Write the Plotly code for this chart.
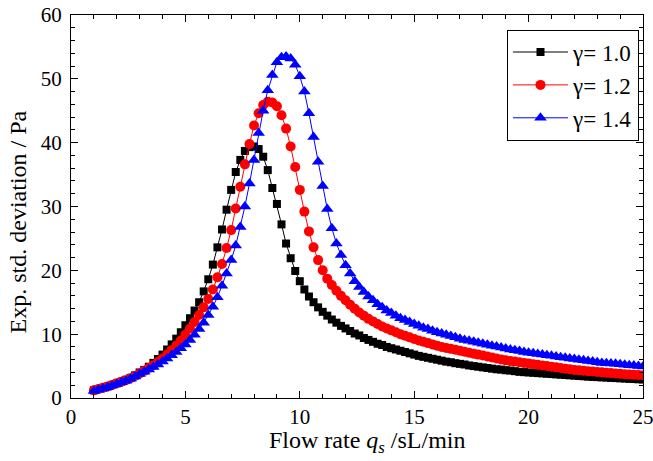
import numpy as np
import plotly.graph_objects as go

# Flow rate grid (sL/min)
flow_rate = np.round(np.arange(1.0, 25.0001, 0.2), 1)

gamma_10 = [
    1.2, 1.4, 1.6, 1.8, 2.05,
    2.3, 2.55, 2.85, 3.15, 3.55,
    4.0, 4.4, 4.9, 5.5, 6.1,
    6.8, 7.6, 8.4, 9.3, 10.3,
    11.4, 12.5, 13.7, 15.0, 16.7,
    18.6, 20.9, 23.6, 26.4, 29.5,
    32.6, 35.4, 37.3, 38.7, 39.3,
    39.4, 39.0, 37.8, 35.7, 32.9,
    30.4, 27.2, 24.2, 21.9, 19.9,
    18.3, 17.0, 15.9, 15.0, 14.2,
    13.5, 12.9, 12.3, 11.8, 11.3,
    10.9, 10.5, 10.1, 9.8, 9.4,
    9.1, 8.8, 8.5, 8.3, 8.0,
    7.8, 7.6, 7.4, 7.2, 7.0,
    6.8, 6.6, 6.45, 6.3, 6.15,
    6.0, 5.85, 5.7, 5.6, 5.45,
    5.35, 5.25, 5.1, 5.0, 4.9,
    4.8, 4.7, 4.6, 4.5, 4.45,
    4.35, 4.3, 4.2, 4.1, 4.05,
    4.0, 3.95, 3.9, 3.85, 3.8,
    3.75, 3.7, 3.65, 3.6, 3.55,
    3.5, 3.45, 3.4, 3.35, 3.3,
    3.27, 3.23, 3.2, 3.15, 3.12,
    3.08, 3.05, 3.0, 2.97, 2.93,
    2.9,
]

gamma_12 = [
    1.2, 1.4, 1.6, 1.8, 2.05,
    2.3, 2.55, 2.8, 3.1, 3.45,
    3.85, 4.25, 4.7, 5.15, 5.65,
    6.2, 6.8, 7.5, 8.2, 9.0,
    9.9, 10.9, 11.9, 13.0, 14.2,
    15.5, 17.0, 18.9, 21.0, 23.5,
    26.3, 29.7, 33.1, 36.6, 39.8,
    42.7, 44.6, 45.9, 46.4, 46.3,
    45.7, 44.3, 42.2, 39.4, 36.2,
    32.6, 29.2, 26.1, 23.6, 21.6,
    20.0, 18.7, 17.7, 16.8, 16.0,
    15.3, 14.6, 14.0, 13.4, 12.9,
    12.4, 12.0, 11.6, 11.2, 10.9,
    10.6, 10.3, 10.0, 9.75, 9.5,
    9.25, 9.0, 8.8, 8.6, 8.4,
    8.2, 8.0, 7.85, 7.7, 7.55,
    7.4, 7.25, 7.1, 6.95, 6.8,
    6.65, 6.5, 6.35, 6.2, 6.05,
    5.9, 5.8, 5.7, 5.6, 5.5,
    5.4, 5.3, 5.2, 5.1, 5.0,
    4.9, 4.8, 4.7, 4.6, 4.5,
    4.4, 4.33, 4.26, 4.2, 4.14,
    4.08, 4.02, 3.96, 3.9, 3.84,
    3.78, 3.73, 3.68, 3.64, 3.6,
    3.56,
]

gamma_14 = [
    1.1, 1.3, 1.5, 1.7, 1.95,
    2.2, 2.45, 2.7, 3.0, 3.35,
    3.75, 4.1, 4.45, 4.85, 5.25,
    5.7, 6.2, 6.7, 7.2, 7.8,
    8.4, 9.1, 9.9, 10.8, 11.8,
    13.0, 14.3, 15.8, 17.6, 19.5,
    21.6, 23.9, 26.8, 30.0, 33.6,
    37.3, 41.5, 45.0, 48.2, 50.6,
    52.6, 53.4, 53.5, 53.2, 52.2,
    50.4, 48.0, 44.6, 40.9, 37.0,
    33.2, 29.6, 26.6, 24.2, 22.4,
    20.8, 19.5, 18.3, 17.4, 16.6,
    15.9, 15.3, 14.7, 14.2, 13.7,
    13.3, 12.9, 12.5, 12.2, 11.9,
    11.6, 11.3, 11.0, 10.8, 10.55,
    10.3, 10.1, 9.9, 9.7, 9.5,
    9.3, 9.1, 8.95, 8.8, 8.65,
    8.5, 8.35, 8.2, 8.05, 7.9,
    7.75, 7.6, 7.5, 7.35, 7.2,
    7.1, 7.0, 6.9, 6.8, 6.7,
    6.6, 6.5, 6.4, 6.3, 6.2,
    6.1, 6.0, 5.9, 5.8, 5.7,
    5.6, 5.5, 5.45, 5.4, 5.35,
    5.3, 5.2, 5.15, 5.1, 5.0,
    4.95,
]

x_title = "Flow rate <i>q</i><sub><i>s</i></sub> /sL/min"
y_title = "Exp. std. deviation / Pa"

series = [
    ("γ= 1.0", gamma_10, "black", "square", 8),
    ("γ= 1.2", gamma_12, "red", "circle", 10),
    ("γ= 1.4", gamma_14, "blue", "triangle-up", 11),
]

FONT = "Liberation Serif, Times New Roman, serif"

fig = go.Figure()
for name, vals, color, sym, size in series:
    fig.add_trace(go.Scatter(
        x=flow_rate, y=vals, name=name, mode="lines+markers",
        line=dict(color=color, width=1),
        marker=dict(symbol=sym, size=size, color=color, line=dict(width=0)),
    ))

axis_common = dict(
    showline=True, linecolor="black", linewidth=1.3, mirror="ticks",
    ticks="inside", ticklen=7, tickwidth=1.3, tickcolor="black",
    showgrid=False, zeroline=False, automargin=False,
    ticklabeloverflow="allow",
    tickfont=dict(family=FONT, size=21, color="black"),
)

fig.update_xaxes(
    range=[0, 25], tick0=0, dtick=5,
    minor=dict(ticks="inside", ticklen=4, tickwidth=1, tickcolor="black", dtick=1),
    **axis_common,
)
fig.update_yaxes(
    range=[0, 60], tick0=0, dtick=10, ticklabelstandoff=4,
    minor=dict(ticks="inside", ticklen=4, tickwidth=1, tickcolor="black", dtick=2),
    **axis_common,
)

fig.add_annotation(
    text=x_title, xref="paper", yref="paper", x=0.519, y=-0.114,
    xanchor="center", yanchor="middle", showarrow=False,
    font=dict(family=FONT, size=24, color="black"),
)
fig.add_annotation(
    text=y_title, xref="paper", yref="paper", x=-0.0927, y=0.461,
    xanchor="center", yanchor="middle", showarrow=False, textangle=-90,
    font=dict(family=FONT, size=24, color="black"),
)

fig.update_layout(
    width=653, height=461,
    margin=dict(l=71, r=10, t=15, b=63),
    plot_bgcolor="white", paper_bgcolor="white",
    font=dict(family=FONT, size=22, color="black"),
    legend=dict(
        x=0.993, y=0.962, xanchor="right", yanchor="top",
        bordercolor="black", borderwidth=1, bgcolor="white",
        font=dict(family=FONT, size=23, color="black"),
        tracegroupgap=0, itemwidth=55,
    ),
)

fig.write_html("out.html")
